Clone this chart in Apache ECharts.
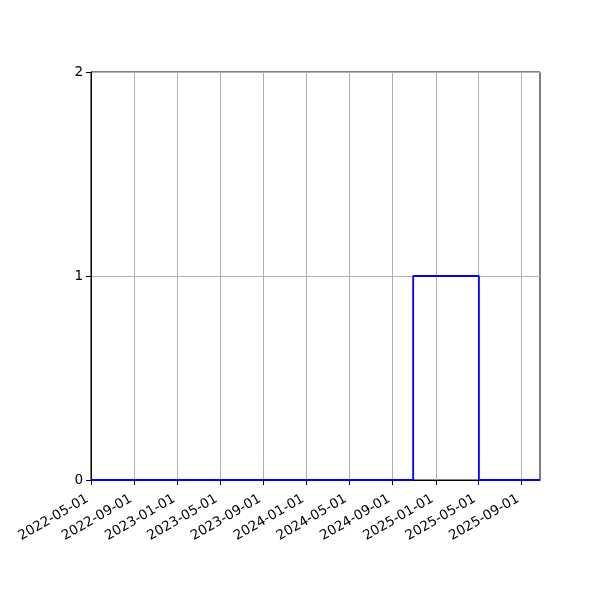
<!DOCTYPE html>
<html>
<head>
<meta charset="utf-8">
<script src="https://cdn.jsdelivr.net/npm/echarts@6/dist/echarts.min.js"></script>
<style>
  html, body { margin: 0; padding: 0; background: #fff; }
  #chart { width: 600px; height: 600px; }
</style>
</head>
<body>
<div id="chart"></div>
<script>
// step data (value switches at each date)
const dates = ['2022-05-01', '2024-10-29', '2025-05-03', '2025-10-23'];
const values = [0, 1, 0, 0];
const xTicks = ['2022-05-01', '2022-09-01', '2023-01-01', '2023-05-01', '2023-09-01',
                '2024-01-01', '2024-05-01', '2024-09-01', '2025-01-01', '2025-05-01', '2025-09-01'];
const yTicks = [0, 1, 2];

const ts = (s) => new Date(s + 'T00:00:00Z').getTime();
const pad = (n) => (n < 10 ? '0' : '') + n;
const fmt = (v) => {
    const d = new Date(v);
    return d.getUTCFullYear() + '-' + pad(d.getUTCMonth() + 1) + '-' + pad(d.getUTCDate());
};

const chart = echarts.init(document.getElementById('chart'));
chart.setOption({
    animation: false,
    grid: {
        left: 91, right: 60, top: 72, bottom: 120,
        show: true, borderColor: '#000', borderWidth: 1, backgroundColor: '#fff'
    },
    xAxis: {
        type: 'value',
        min: ts(dates[0]),
        max: ts(dates[dates.length - 1]),
        axisLine: { show: true, lineStyle: { color: '#000', width: 1 } },
        axisTick: {
            show: true, length: 5, inside: false,
            lineStyle: { color: '#000' },
            customValues: xTicks.map(ts)
        },
        axisLabel: {
            customValues: xTicks.map(ts),
            formatter: (v) => fmt(v),
            rotate: 30,
            fontFamily: 'DejaVu Sans',
            fontSize: 13.5,
            color: '#000',
            margin: 16,
            padding: [0, 4, 0, 0]
        },
        splitLine: { show: true, lineStyle: { color: '#b0b0b0', width: 1 } }
    },
    yAxis: {
        type: 'value',
        min: yTicks[0],
        max: yTicks[yTicks.length - 1],
        interval: 1,
        axisLine: { show: true, lineStyle: { color: '#000', width: 1 } },
        axisTick: { show: true, length: 5, lineStyle: { color: '#000' } },
        axisLabel: { fontFamily: 'DejaVu Sans', fontSize: 13.5, color: '#000', margin: 8 },
        splitLine: { show: true, lineStyle: { color: '#b0b0b0', width: 1 } }
    },
    series: [{
        type: 'line',
        step: 'end',
        showSymbol: false,
        data: dates.map((d, i) => [ts(d), values[i]]),
        lineStyle: { color: '#0000ff', width: 1.8 },
        z: 3
    }]
});
</script>
</body>
</html>
